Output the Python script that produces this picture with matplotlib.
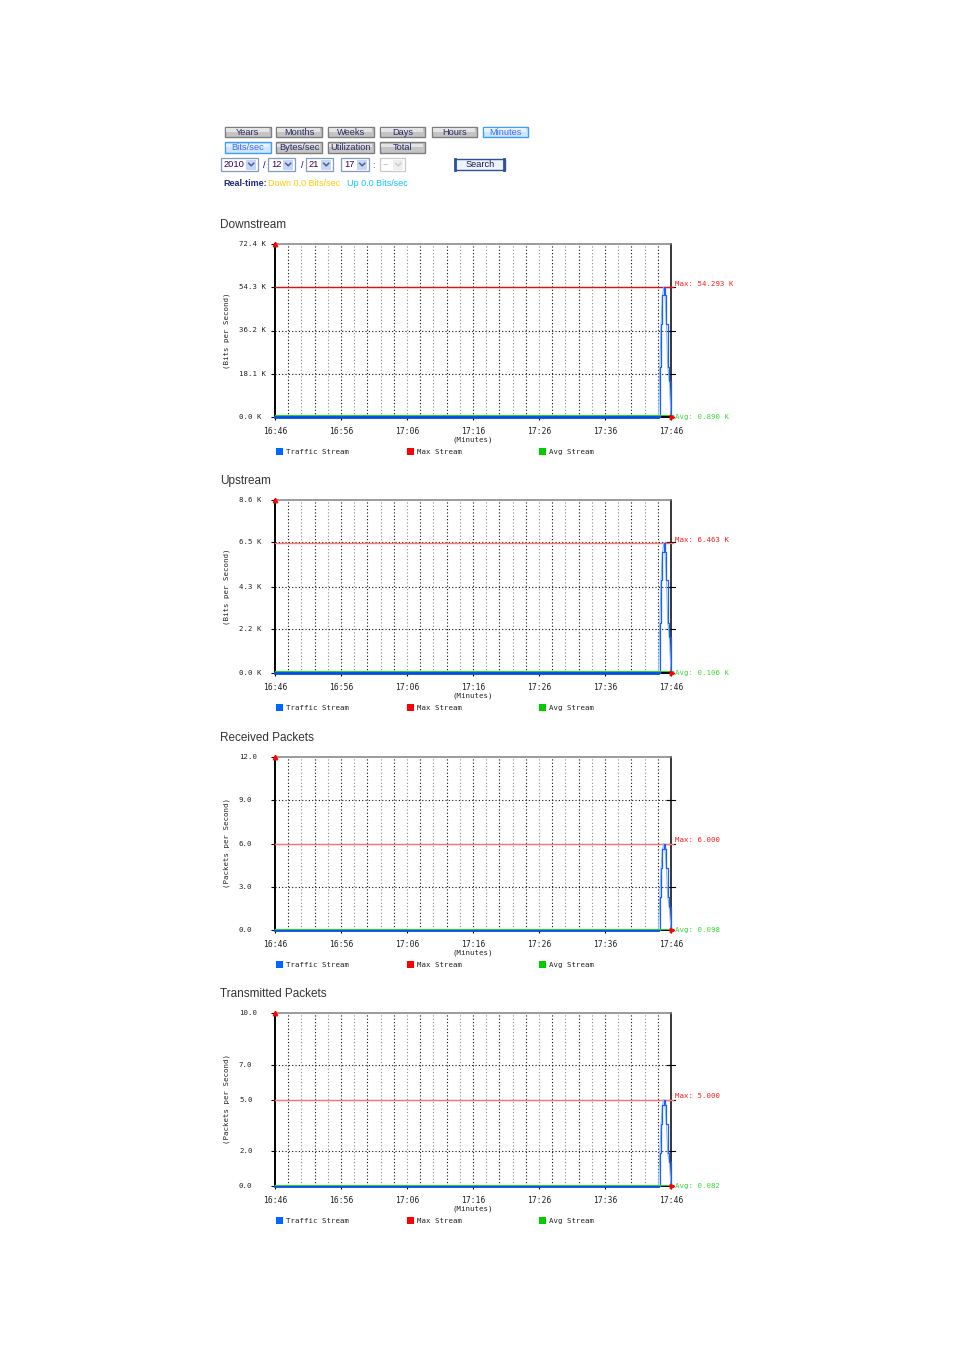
import matplotlib
matplotlib.use("Agg")
import matplotlib.pyplot as plt
from matplotlib.patches import Rectangle
from matplotlib.transforms import blended_transform_factory

# ---- data ----
time_labels = ["16:46", "16:56", "17:06", "17:16", "17:26", "17:36", "17:46"]
chart_titles = ["Downstream", "Upstream", "Received Packets", "Transmitted Packets"]
y_titles = ["(Bits per Second)", "(Bits per Second)",
            "(Packets per Second)", "(Packets per Second)"]

# minutes since 16:46
spike_t = [0.0, 58.1, 58.3, 58.5, 58.7, 58.9, 59.1, 59.3, 59.5, 59.75, 60.0]

down_ticks = [0.0, 18.1, 36.2, 54.3, 72.4]
down_tick_labels = ["0.0 K", "18.1 K", "36.2 K", "54.3 K", "72.4 K"]
down_traffic = [0.0, 0.0, 21.0, 39.0, 51.0, 54.293, 51.0, 39.0, 21.0, 15.0, 0.0]
down_max, down_avg = 54.293, 0.890

up_ticks = [0.0, 2.2, 4.3, 6.5, 8.6]
up_tick_labels = ["0.0 K", "2.2 K", "4.3 K", "6.5 K", "8.6 K"]
up_traffic = [0.0, 0.0, 2.5, 4.6, 6.0, 6.463, 6.0, 4.6, 2.5, 1.8, 0.0]
up_max, up_avg = 6.463, 0.106

rx_ticks = [0.0, 3.0, 6.0, 9.0, 12.0]
rx_tick_labels = ["0.0", "3.0", "6.0", "9.0", "12.0"]
rx_traffic = [0.0, 0.0, 2.3, 4.3, 5.6, 6.0, 5.6, 4.3, 2.3, 1.6, 0.0]
rx_max, rx_avg = 6.000, 0.098

tx_ticks = [0.0, 2.0, 5.0, 7.0, 10.0]
tx_tick_labels = ["0.0", "2.0", "5.0", "7.0", "10.0"]
tx_traffic = [0.0, 0.0, 1.9, 3.6, 4.7, 5.0, 4.7, 3.6, 1.9, 1.4, 0.0]
tx_max, tx_avg = 5.000, 0.082

charts = [
    (down_ticks, down_tick_labels, down_traffic, down_max, down_avg, " K"),
    (up_ticks, up_tick_labels, up_traffic, up_max, up_avg, " K"),
    (rx_ticks, rx_tick_labels, rx_traffic, rx_max, rx_avg, ""),
    (tx_ticks, tx_tick_labels, tx_traffic, tx_max, tx_avg, ""),
]
max_colors = ["#dd1111", "#ff7373", "#ff7373", "#ff7373"]

MONO = "DejaVu Sans Mono"
SANS = "Liberation Sans"
W, H = 954, 1350

fig = plt.figure(figsize=(9.54, 13.5), dpi=100)
fig.patch.set_facecolor("white")

# overlay in pixel coordinates for the page furniture
ov = fig.add_axes([0, 0, 1, 1])
ov.set_xlim(0, W)
ov.set_ylim(H, 0)
ov.axis("off")


def button(x0, x1, y0, y1, label, active=False):
    if active:
        ov.add_patch(Rectangle((x0, y0), x1 - x0, y1 - y0, fc="#cfe6ff",
                               ec="#3f9cff", lw=1.0))
        ov.add_patch(Rectangle((x0 + 1.5, y0 + 1.5), x1 - x0 - 3, (y1 - y0) / 2 - 1.5,
                               fc="#e6f3ff", ec="none"))
        color = "#3d6bff"
    else:
        ov.add_patch(Rectangle((x0, y0), x1 - x0, y1 - y0, fc="#c4c4c4",
                               ec="#7e7e7e", lw=1.0))
        ov.add_patch(Rectangle((x0 + 1.5, y0 + 1.5), x1 - x0 - 3, (y1 - y0) / 2 - 1.5,
                               fc="#e4e4e4", ec="none"))
        color = "#2c2c66"
    ov.text((x0 + x1) / 2, (y0 + y1) / 2 + 0.3, label, ha="center", va="center",
            fontsize=6.7, family=SANS, color=color)


def dropdown(x0, x1, y0, y1, label, disabled=False):
    ec = "#c9c9c9" if disabled else "#7f9db9"
    ov.add_patch(Rectangle((x0, y0), x1 - x0, y1 - y0, fc="white", ec=ec, lw=0.9))
    ov.add_patch(Rectangle((x1 - 12, y0 + 1.5), 10.5, y1 - y0 - 3,
                           fc="#eeeeee" if disabled else "#c6d6fb", ec="none"))
    cx, cy = x1 - 6.8, (y0 + y1) / 2
    ov.plot([cx - 2.5, cx, cx + 2.5], [cy - 1.2, cy + 1.3, cy - 1.2],
            color="#cccccc" if disabled else "#4d6185", lw=1.1)
    ov.text(x0 + 3, cy + 0.3, label, ha="left", va="center", fontsize=6.7,
            family=SANS, color="#aaaaaa" if disabled else "#330066")


row1 = [("Years", 225, 271), ("Months", 276, 322), ("Weeks", 328, 374),
        ("Days", 380, 425), ("Hours", 432, 477), ("Minutes", 483, 528)]
for lab, a, b in row1:
    button(a, b, 126.5, 137, lab, active=(lab == "Minutes"))
row2 = [("Bits/sec", 225, 271), ("Bytes/sec", 276, 322),
        ("Utilization", 328, 374), ("Total", 380, 425)]
for lab, a, b in row2:
    button(a, b, 142, 152.5, lab, active=(lab == "Bits/sec"))

dropdown(221, 258, 158, 171, "2010")
ov.text(264.5, 165, "/", fontsize=6.7, family=SANS, color="#330066", ha="center", va="center")
dropdown(268, 295, 158, 171, "12")
ov.text(302, 165, "/", fontsize=6.7, family=SANS, color="#330066", ha="center", va="center")
dropdown(306, 333, 158, 171, "21")
dropdown(341, 369, 158, 171, "17")
ov.text(373.5, 165, ":", fontsize=6.7, family=SANS, color="#6666aa", ha="center", va="center")
dropdown(380, 405, 158, 171, "--", disabled=True)

ov.add_patch(Rectangle((455, 158.5), 50, 11.5, fc="#eef4ff", ec="#2d4f9e", lw=1.0))
ov.plot([455.5, 455.5], [158.5, 170], color="#2d4f9e", lw=2)
ov.plot([504.5, 504.5], [158.5, 170], color="#2d4f9e", lw=2)
ov.text(480, 164.6, "Search", ha="center", va="center", fontsize=6.7,
        family=SANS, color="#1a1a4d")

ov.text(223, 184, "Real-time:", ha="left", va="center", fontsize=6.5,
        family=SANS, weight="bold", color="#1f2a7a")
ov.text(268, 184, "Down 0.0 Bits/sec", ha="left", va="center", fontsize=6.5,
        family=SANS, color="#ffcc00")
ov.text(347, 184, "Up 0.0 Bits/sec", ha="left", va="center", fontsize=6.5,
        family=SANS, color="#11c6ff")

# ---- the four graphs ----
AX_L, AX_R = 275, 671
tops = [244, 500, 757, 1013]
AX_H = 173
fs = 5.3

for i, (ticks, tlabels, traffic, vmax, vavg, unit) in enumerate(charts):
    top = tops[i]
    bot = top + AX_H
    ax = fig.add_axes([AX_L / W, 1 - bot / H, (AX_R - AX_L) / W, AX_H / H])
    ax.set_xlim(0, 60)
    ax.set_ylim(0, ticks[-1])
    ax.patch.set_alpha(0)

    for side in ["left", "bottom"]:
        ax.spines[side].set_color("black")
        ax.spines[side].set_linewidth(1.4)
    ax.spines["right"].set_color("black")
    ax.spines["right"].set_linewidth(1.1)
    ax.spines["top"].set_color("#808080")
    ax.spines["top"].set_linewidth(1.1)

    ax.set_xticks(range(0, 61, 10))
    ax.set_xticklabels(time_labels, fontsize=5.8, family=MONO, color="#222222")
    ax.tick_params(axis="x", length=2.5, width=0.8, pad=4.5, direction="out")
    ax.set_yticks(ticks)
    ax.set_yticklabels([])
    ax.tick_params(axis="y", length=3, width=0.8, direction="out")

    # vertical grid every 2 minutes
    for k, t in enumerate(range(2, 60, 2)):
        c = "#111111" if k % 2 == 0 else "#8a8a8a"
        ax.axvline(t, color=c, ls=(0, (1, 2)), lw=0.8, zorder=1)
    for yv in ticks[1:-1]:
        ax.axhline(yv, color="#111111", ls=(0, (1, 2)), lw=0.8, zorder=1)

    # ticks outside the right edge
    br = blended_transform_factory(ax.transAxes, ax.transData)
    for yv in ticks[1:-1]:
        ax.plot([0.99, 1.01], [yv, yv], color="black", lw=0.8,
                transform=br, clip_on=False)

    # max line
    ax.plot([0, 60.3], [vmax, vmax], color=max_colors[i], lw=1.0,
            clip_on=False, zorder=3)

    # traffic stream
    ax.plot(spike_t, traffic, color="#8cc0ff", lw=0.8, zorder=4, clip_on=False)
    ax.step(spike_t, traffic, where="post", color="#1a5fff", lw=0.9,
            zorder=5, clip_on=False)
    ax.plot([0, 58.1], [0, 0], color="#0050e6", lw=2.0, zorder=5, clip_on=False)

    # avg line
    ax.plot([0, 60.3], [vavg, vavg], color="#33cc33", lw=0.8,
            clip_on=False, zorder=6)

    # red arrow heads
    ax.plot(0, ticks[-1], marker="^", color="red", ms=3.2, clip_on=False, zorder=7)
    ax.plot(60.2, 0, marker=">", color="red", ms=3.2, clip_on=False, zorder=7)

    # y tick labels, left aligned
    ytr = blended_transform_factory(ov.transData, ax.transData)
    for yv, lab in zip(ticks, tlabels):
        ax.text(239, yv, lab, transform=ytr, ha="left", va="center",
                fontsize=fs, family=MONO, color="#222222")

    # right side labels
    ax.text(1.01, vmax, f"Max: {vmax:.3f}{unit}", transform=br, ha="left",
            va="bottom", fontsize=fs, family=MONO, color="#ff1a1a")
    ax.text(1.01, 0, f"Avg: {vavg:.3f}{unit}", transform=br, ha="left",
            va="center", fontsize=fs, family=MONO, color="#33dd33")

    # page texts
    ov.text(220, top - 19, chart_titles[i], ha="left", va="center",
            fontsize=8.5, family=SANS, color="#333333")
    ov.text(227, top + AX_H / 2, y_titles[i], rotation=90, ha="center",
            va="center", fontsize=fs, family=MONO, color="#222222")
    ov.text(473, bot + 23, "(Minutes)", ha="center", va="center",
            fontsize=fs, family=MONO, color="#222222")

    # legend row
    ly = bot + 34
    for sx, col, lab in [(276, "#0066ff", "Traffic Stream"),
                         (407, "#ff0000", "Max Stream"),
                         (539, "#00cc00", "Avg Stream")]:
        ov.add_patch(Rectangle((sx, ly - 3.5), 7, 7, fc=col, ec="none"))
        ov.text(sx + 10, ly + 3, lab, ha="left", va="baseline",
                fontsize=fs, family=MONO, color="#222222")

fig.savefig("out.png", dpi=100, facecolor="white")
